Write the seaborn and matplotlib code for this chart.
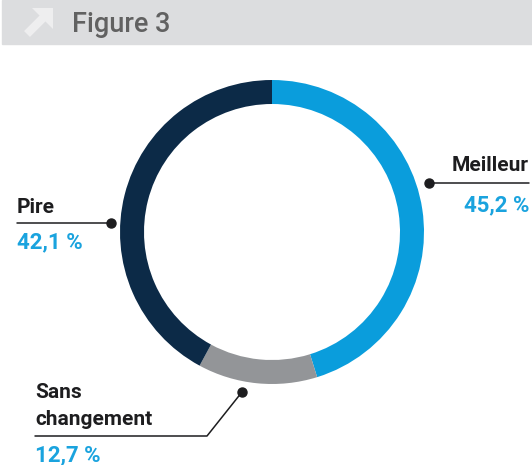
import matplotlib.pyplot as plt
import seaborn as sns

# data
categories = ["Meilleur", "Sans changement", "Pire"]
shares = [45.2, 12.7, 42.1]
value_labels = ["45,2 %", "12,7 %", "42,1 %"]
colors = ["#0a9ddc", "#939598", "#0c2a47"]

sns.set_theme(style="white")
plt.rcParams["font.family"] = ["Roboto", "DejaVu Sans"]

H = 465
ink = "#1d1d1f"
blue = "#1aa3de"

fig = plt.figure(figsize=(5.32, 4.65), dpi=100)
ax = fig.add_axes([0, 0, 1, 1])

# header band
ax.add_patch(plt.Rectangle((2, H - 44), 530, 44, color="#dcdddf", zorder=0))
ax.plot([27, 50], [H - 34, H - 11], color="#eeeeef", lw=6,
        solid_capstyle="butt")
ax.fill([32, 53, 53], [H - 8, H - 8, H - 29], color="#eeeeef", lw=0)
ax.text(72, H - 32, "Figure 3", fontsize=19.5, fontweight="medium",
        color="#616161", va="baseline", ha="left")

# donut
ax.pie(
    shares,
    colors=colors,
    startangle=90,
    counterclock=False,
    center=(272, H - 232),
    radius=152,
    wedgeprops=dict(width=24, linewidth=0),
)

# labels with leader lines
lab = dict(fontsize=15, fontweight="bold", color=ink, va="baseline")
val = dict(fontsize=16, fontweight="bold", color=blue, va="baseline")

# Meilleur
ax.plot([429, 529], [H - 183, H - 183], color=ink, lw=1.1)
ax.plot(429, H - 183, "o", color=ink, ms=6.5)
ax.text(529, H - 171, categories[0], ha="right", **lab)
ax.text(529, H - 211, value_labels[0], ha="right", **val)

# Pire
ax.plot([17, 111], [H - 223, H - 223], color=ink, lw=1.1)
ax.plot(111, H - 223, "o", color=ink, ms=6.5)
ax.text(17, H - 213, categories[2], ha="left", **lab)
ax.text(17, H - 248, value_labels[2], ha="left", **val)

# Sans changement
ax.plot([242, 207, 35], [H - 392, H - 436, H - 436], color=ink, lw=1.1)
ax.plot(242, H - 392, "o", color=ink, ms=6.5)
ax.text(35, H - 398, "Sans", ha="left", **lab)
ax.text(35, H - 425, "changement", ha="left", **lab)
ax.text(35, H - 461, value_labels[1], ha="left", **val)

ax.set_xlim(0, 532)
ax.set_ylim(0, H)
ax.set_aspect("auto")
ax.axis("off")

plt.savefig("out.png", dpi=100)
plt.close()
